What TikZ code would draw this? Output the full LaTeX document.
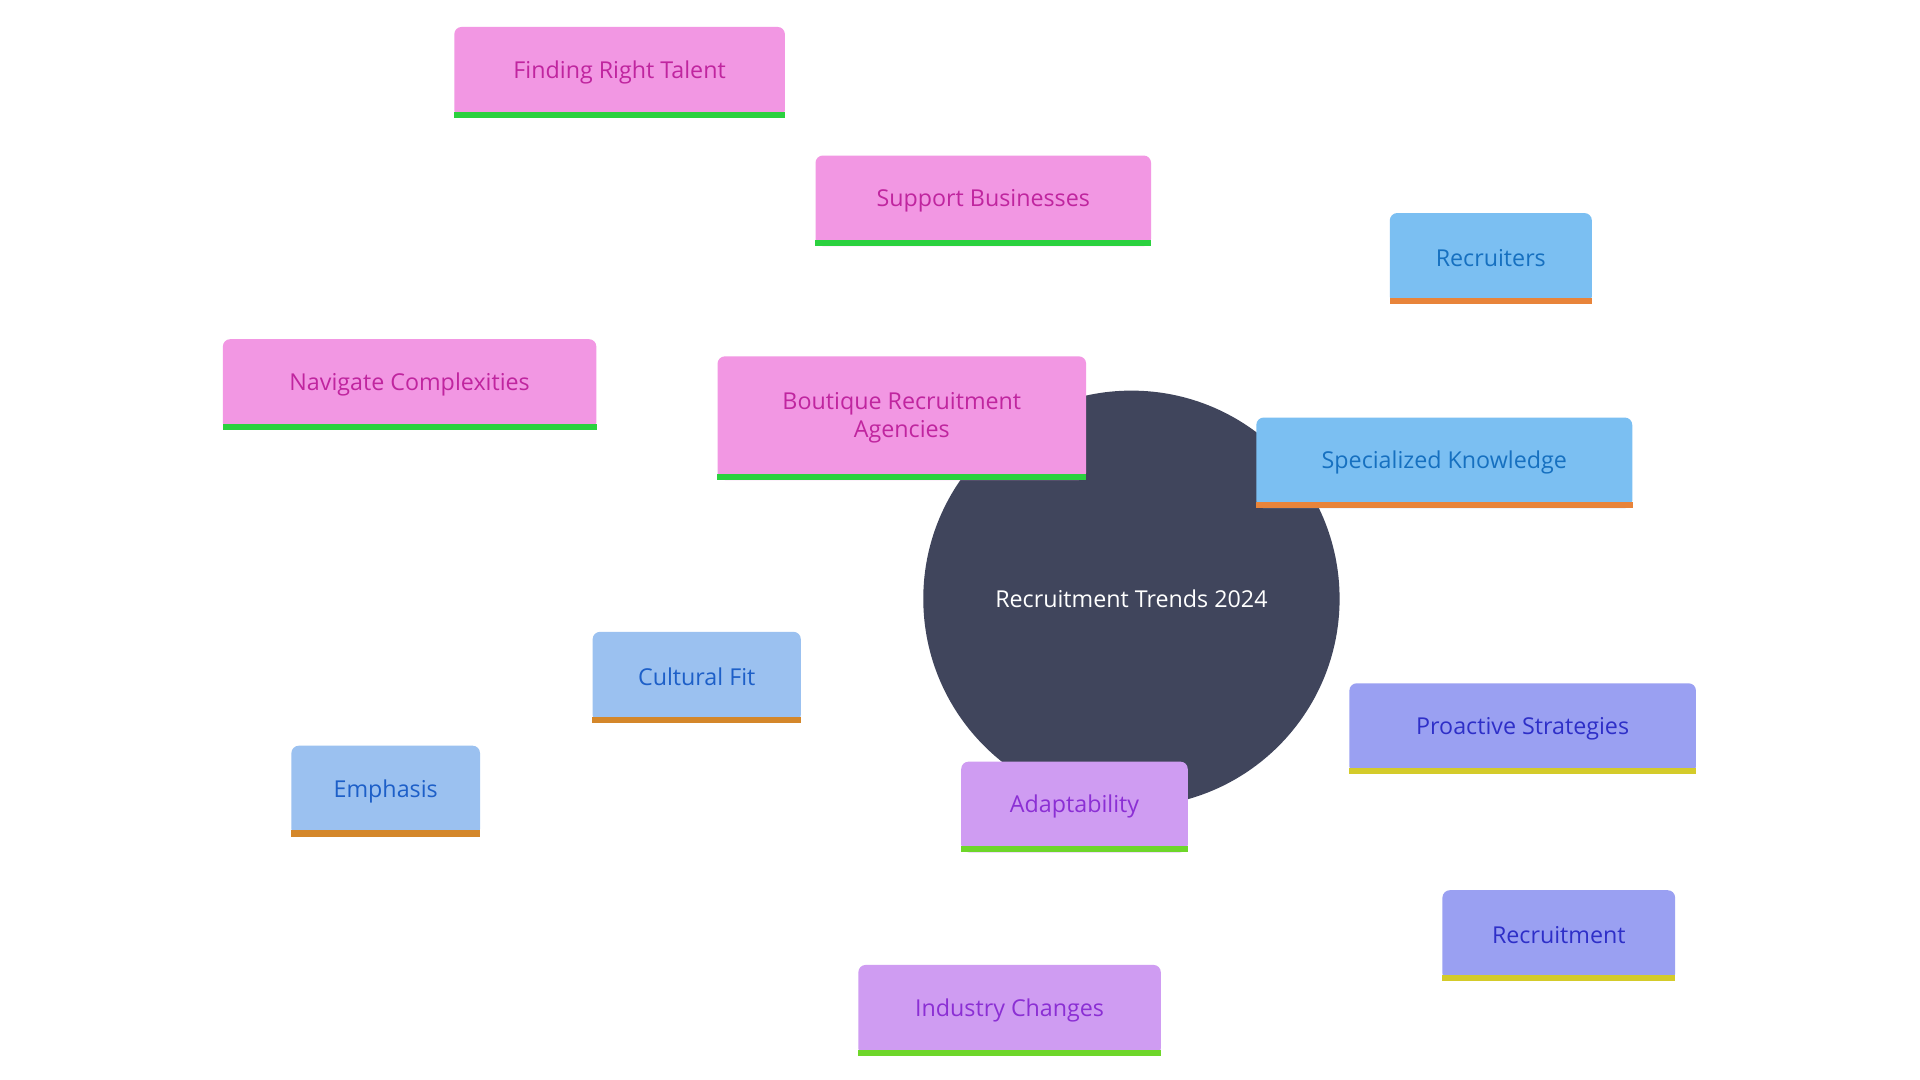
\documentclass[tikz,border=0pt]{standalone}
\usepackage{fontspec}
\setmainfont{Open Sans}
\usetikzlibrary{backgrounds}
\definecolor{pinkF}{HTML}{F297E3}\definecolor{pinkT}{HTML}{C0259F}\definecolor{greenS}{HTML}{2BD13F}
\definecolor{blueF}{HTML}{7BBFF2}\definecolor{blueT}{HTML}{1670C0}\definecolor{orS}{HTML}{E8843A}
\definecolor{lbF}{HTML}{9BC1F0}\definecolor{lbT}{HTML}{1D5FC8}\definecolor{lbS}{HTML}{D4872A}
\definecolor{vF}{HTML}{9AA0F2}\definecolor{vT}{HTML}{2E2FC8}\definecolor{yS}{HTML}{D4CB2A}
\definecolor{pF}{HTML}{CF9CF2}\definecolor{pT}{HTML}{8B2FD4}\definecolor{lgS}{HTML}{6ED62A}
\definecolor{dark}{HTML}{40455C}
\tikzset{
 box/.style={rounded corners=6pt,inner sep=0pt,align=center,font=\fontsize{19}{23}\selectfont},
 pinkb/.style={box,fill=pinkF,text=pinkT},
 blueb/.style={box,fill=blueF,text=blueT},
 lbb/.style={box,fill=lbF,text=lbT},
 vb/.style={box,fill=vF,text=vT},
 pb/.style={box,fill=pF,text=pT},
 ed/.style={line width=4.5pt},
}
\newcommand{\bx}[7]{% name style x1 y1 x2 y2 text
 \node[#2,minimum width={(#5-#3)*1pt},minimum height={(#6-#4)*1pt}] (#1) at ({(#3+#5)/2},{(#4+#6)/2}) {#7};}
\newcommand{\stripe}[2]{\fill[#2] (#1.south west) rectangle ([yshift=5pt]#1.south east);}
\begin{document}
\begin{tikzpicture}[x=1pt,y=-1pt]
\useasboundingbox[fill=white] (0,0) rectangle (1568,882);
\node[circle,fill=dark,minimum size=340pt,inner sep=0pt,text=white,font=\fontsize{19}{23}\selectfont] (c) at (924,489) {Recruitment Trends 2024};
\bx{frt}{pinkb}{371}{22}{641}{96}{Finding Right Talent}
\bx{sb}{pinkb}{666}{127}{940}{201}{Support Businesses}
\bx{nc}{pinkb}{182}{277}{487}{351}{Navigate Complexities}
\bx{bra}{pinkb}{586}{291}{887}{392}{Boutique Recruitment\\Agencies}
\bx{rec}{blueb}{1135}{174}{1300}{248}{Recruiters}
\bx{sk}{blueb}{1026}{341}{1333}{415}{Specialized Knowledge}
\bx{cf}{lbb}{484}{516}{654}{590}{Cultural Fit}
\bx{em}{lbb}{238}{609}{392}{683}{Emphasis}
\bx{ps}{vb}{1102}{558}{1385}{632}{Proactive Strategies}
\bx{rt}{vb}{1178}{727}{1368}{801}{Recruitment}
\bx{ad}{pb}{785}{622}{970}{696}{Adaptability}
\bx{ic}{pb}{701}{788}{948}{862}{Industry Changes}
\foreach \n in {frt,sb,nc,bra}{\stripe{\n}{greenS}}
\foreach \n in {rec,sk}{\stripe{\n}{orS}}
\foreach \n in {cf,em}{\stripe{\n}{lbS}}
\foreach \n in {ps,rt}{\stripe{\n}{yS}}
\foreach \n in {ad,ic}{\stripe{\n}{lgS}}
\begin{pgfonlayer}{background}
\draw[ed,pinkF] (c) -- (bra);
\draw[ed,pinkF] (bra) -- (sb);
\draw[ed,pinkF] (sb.center) -- ([xshift=-90pt]sb.center) -- (frt);
\draw[ed,pinkF] (bra) -- (nc);
\draw[ed,blueF] (c) -- ([xshift=-70pt,yshift=-15pt]sk.center) -- (sk);
\draw[ed,blueF] (sk) -- (rec);
\draw[ed,lbF] (c) -- (cf);
\draw[ed,lbF] (cf) -- (em);
\draw[ed,vF] (c) -- (ps);
\draw[ed,vF] (ps) -- (rt);
\draw[ed,pF] (c) -- (ad);
\draw[ed,pF] (ad) -- (ic);
\end{pgfonlayer}
\end{tikzpicture}
\end{document}
